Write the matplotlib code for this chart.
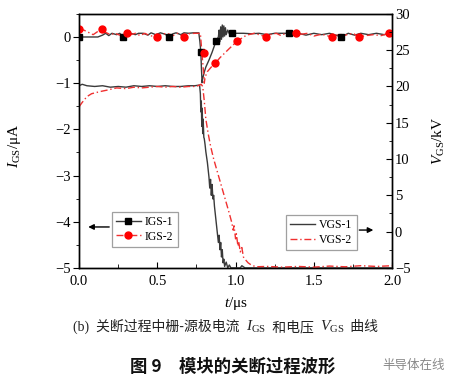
import matplotlib

matplotlib.use("Agg")
import matplotlib.pyplot as plt
from matplotlib.lines import Line2D
from matplotlib.patches import FancyArrowPatch
from matplotlib.ticker import MultipleLocator

plt.rcParams["font.family"] = ["Liberation Serif", "Noto Sans CJK SC"]
plt.rcParams["mathtext.fontset"] = "custom"
plt.rcParams["mathtext.rm"] = "Liberation Serif"
plt.rcParams["mathtext.it"] = "Liberation Serif:italic"
plt.rcParams["axes.linewidth"] = 1.0

# ---- data (t in us) ----
igs1_t = [0, 0.06, 0.12, 0.15, 0.17, 0.19, 0.21, 0.24, 0.26, 0.28, 0.30, 0.33, 0.36,
          0.38, 0.41, 0.44, 0.46, 0.49, 0.52, 0.55, 0.575, 0.60, 0.62, 0.65, 0.67,
          0.70, 0.73, 0.765, 0.772, 0.778, 0.782, 0.786, 0.79, 0.80, 0.81, 0.83,
          0.85, 0.875, 0.89, 0.895, 0.90, 0.905, 0.91, 0.915, 0.92, 0.925, 0.93,
          0.935, 0.94, 0.95, 0.96, 0.975, 1.05, 1.10, 1.15, 1.20, 1.25, 1.30, 1.34,
          1.40, 1.45, 1.50, 1.55, 1.60, 1.65, 1.675, 1.72, 1.76, 1.80, 1.85, 1.90,
          1.95, 1.98, 2.0]
igs1_i = [0, 0, 0, 0.04, 0.08, 0.03, 0.08, 0.05, 0.08, 0.0, 0.07, 0.08, 0.05,
          0.08, 0.08, 0.04, 0.09, 0.05, 0.09, 0.06, 0.0, 0.07, 0.09, 0.05, 0.09,
          0.08, 0.09, 0.09, -0.10, -0.33, -0.70, -0.99, -0.90, -0.76, -0.65, -0.50,
          -0.33, -0.09, 0.0, 0.15, -0.10, 0.22, -0.05, 0.26, 0.0, 0.24, 0.02,
          0.20, 0.05, 0.15, 0.07, 0.08, 0.08, 0.07, 0.08, 0.05, 0.08, 0.08, 0.08,
          0.08, 0.04, 0.08, 0.05, 0.08, 0.03, 0.0, 0.08, 0.04, 0.08, 0.05, 0.08,
          0.05, 0.08, 0.04]
igs1_mark_t = [0, 0.28, 0.575, 0.778, 0.875, 0.975, 1.34, 1.675]
igs1_mark_i = [0, 0, 0, -0.33, -0.09, 0.08, 0.08, 0.0]

igs2_t = [0, 0.03, 0.06, 0.09, 0.12, 0.145, 0.17, 0.20, 0.23, 0.26, 0.305, 0.33,
          0.36, 0.39, 0.42, 0.45, 0.50, 0.53, 0.56, 0.60, 0.63, 0.67, 0.70, 0.74,
          0.775, 0.785, 0.795, 0.80, 0.805, 0.82, 0.845, 0.87, 0.90, 0.93, 0.96,
          1.01, 1.07, 1.12, 1.16, 1.195, 1.23, 1.26, 1.29, 1.32, 1.36, 1.385, 1.42,
          1.46, 1.50, 1.55, 1.615, 1.66, 1.70, 1.75, 1.79, 1.83, 1.88, 1.93, 1.98,
          2.0]
igs2_i = [0.17, 0.15, 0.10, 0.05, 0.12, 0.17, 0.10, 0.05, 0.08, 0.04, 0.08, 0.05,
          0.08, 0.03, 0.08, 0.03, 0.0, 0.06, 0.08, 0.03, 0.08, 0.0, 0.07, 0.08,
          0.08, -0.35, -0.75, -1.0, -0.87, -0.75, -0.65, -0.57, -0.45, -0.35, -0.25,
          -0.09, 0.04, 0.08, 0.04, 0.0, 0.06, 0.08, 0.03, 0.08, 0.05, 0.08, 0.06,
          0.08, 0.02, 0.06, 0.0, 0.06, 0.04, 0.08, 0.0, 0.03, 0.05, 0.03, 0.08,
          0.08]
igs2_mark_t = [0, 0.145, 0.305, 0.50, 0.67, 0.80, 0.87, 1.01, 1.195, 1.385, 1.615,
               1.79, 1.98]
igs2_mark_i = [0.17, 0.17, 0.08, 0.0, 0.0, -0.35, -0.57, -0.09, 0.0, 0.08, 0.0,
               0.0, 0.08]

vgs1_t = [0, 0.02, 0.05, 0.10, 0.15, 0.20, 0.25, 0.30, 0.35, 0.40, 0.45, 0.50,
          0.55, 0.60, 0.65, 0.70, 0.74, 0.77, 0.775, 0.778, 0.781, 0.784, 0.787,
          0.79, 0.793, 0.797, 0.80, 0.805, 0.81, 0.82, 0.83, 0.835, 0.84, 0.845,
          0.85, 0.855, 0.86, 0.865, 0.87, 0.88, 0.89, 0.895, 0.90, 0.905, 0.91,
          0.915, 0.92, 0.925, 0.93, 0.94, 0.95, 0.96, 0.97, 1.03, 1.04, 1.06, 2.0]
vgs1_v = [20.1, 20.3, 20.1, 20.0, 20.1, 19.9, 20.0, 19.9, 20.1, 20.0, 20.1, 20.0,
          20.1, 20.0, 20.0, 20.1, 20.1, 20.2, 19.0, 16.5, 18.0, 14.5, 17.0,
          13.5, 15.5, 13.0, 12.8, 12.0, 11.0, 9.5, 7.5, 6.0, 7.2, 5.0,
          6.5, 4.5, 5.0, 3.5, 2.5, 0.5, -1.5, -0.5, -2.5, -1.5, -3.5,
          -2.5, -4.3, -3.8, -4.8, -4.2, -5.0, -4.6, -5.0, -5.0, -4.7, -5.0, -5.0]

vgs2_t = [0, 0.02, 0.05, 0.08, 0.135, 0.18, 0.24, 0.30, 0.35, 0.40, 0.45, 0.50,
          0.55, 0.60, 0.65, 0.70, 0.75, 0.78, 0.79, 0.80, 0.81, 0.825, 0.84, 0.86,
          0.88, 0.90, 0.92, 0.94, 0.96, 0.975, 0.985, 0.99, 1.0, 1.005, 1.015,
          1.02, 1.03, 1.04, 1.05, 1.06, 1.08, 1.10, 1.13, 1.20, 1.30, 1.40, 1.50,
          1.60, 1.70, 1.80, 1.90, 2.0]
vgs2_v = [17.2, 17.8, 18.6, 19.0, 19.3, 19.5, 19.8, 19.7, 19.9, 19.8, 19.9, 20.0,
          19.9, 20.0, 19.9, 20.0, 20.0, 20.3, 20.0, 18.0, 15.5, 13.5, 11.8, 10.0,
          8.5, 7.0, 5.5, 4.0, 2.5, 1.3, 0.2, 0.8, -1.0, -0.3, -2.0,
          -1.4, -2.8, -2.2, -3.5, -3.8, -4.3, -4.6, -4.85, -4.8, -4.9, -4.8, -4.9,
          -4.75, -4.85, -4.7, -4.8, -4.7]

BLACK = "#3a3a3a"
RED = "#f03030"
DASHDOT = (0, (5, 2, 1, 2))
TICK_FS = 10.5
SERIF = ["Liberation Serif", "Noto Sans CJK SC"]
CJK = ["Noto Sans CJK SC", "Liberation Serif"]

fig = plt.figure(figsize=(4.57, 3.86), dpi=100)
ax = fig.add_axes([0.173, 0.306, 0.685, 0.658])
ax2 = ax.twinx()

ax.plot(igs1_t, igs1_i, color=BLACK, lw=1.0, zorder=3)
ax.plot(igs1_mark_t, igs1_mark_i, ls="none", marker="s", ms=4.5, color="black", zorder=4)
ax.plot(igs2_t, igs2_i, color=RED, lw=1.0, ls=DASHDOT, zorder=3)
ax.plot(igs2_mark_t, igs2_mark_i, ls="none", marker="o", ms=5, color="red", zorder=4)

ax2.plot(vgs1_t, vgs1_v, color=BLACK, lw=1.0)
ax2.plot(vgs2_t, vgs2_v, color=RED, lw=1.0, ls=DASHDOT)

ax.set_xlim(0, 2.0)
ax.set_ylim(-5, 0.5)
ax2.set_ylim(-5, 30)

ax.xaxis.set_major_locator(MultipleLocator(0.5))
ax.xaxis.set_minor_locator(MultipleLocator(0.25))
ax.yaxis.set_major_locator(MultipleLocator(1))
ax.yaxis.set_minor_locator(MultipleLocator(0.5))
ax2.yaxis.set_major_locator(MultipleLocator(5))
ax2.yaxis.set_minor_locator(MultipleLocator(2.5))

ax.tick_params(axis="x", which="both", direction="in", top=False, labelsize=TICK_FS, pad=5)
ax.tick_params(axis="x", which="major", length=4)
ax.tick_params(axis="x", which="minor", length=3)
ax.tick_params(axis="y", which="both", direction="out", labelsize=TICK_FS, pad=2)
ax.tick_params(axis="y", which="major", length=4)
ax.tick_params(axis="y", which="minor", length=2.5)
ax2.tick_params(axis="y", which="both", direction="in", labelsize=TICK_FS, pad=2)
ax2.tick_params(axis="y", which="major", length=4)
ax2.tick_params(axis="y", which="minor", length=2.5)

ax.set_ylabel("$I_{\\rm GS}$/\u03bcA", fontsize=11)
ax.yaxis.set_label_coords(-0.18, 0.48)
ax2.set_ylabel("$V_{\\rm GS}$/kV", fontsize=11, rotation=90)
ax2.yaxis.set_label_coords(1.125, 0.5)
ax.set_xlabel("$t$/\u03bcs", fontsize=11)
ax.xaxis.set_label_coords(0.5, -0.105)

leg_kw = dict(frameon=True, fancybox=False, edgecolor="#888888", fontsize=8.5,
              handlelength=2.1, handletextpad=0.35, borderpad=0.35, labelspacing=0.25,
              borderaxespad=0, bbox_transform=fig.transFigure, loc="upper left")
h1 = [Line2D([], [], color=BLACK, lw=1.0, marker="s", ms=4.5, mfc="black", mec="black"),
      Line2D([], [], color=RED, lw=1.0, ls=DASHDOT, marker="o", ms=5, mfc="red", mec="red")]
leg1 = ax2.legend(h1, ["IGS-1", "IGS-2"], bbox_to_anchor=(0.245, 0.452), **leg_kw)
leg1.get_frame().set_linewidth(0.9)
ax2.add_artist(leg1)
h2 = [Line2D([], [], color=BLACK, lw=1.0),
      Line2D([], [], color=RED, lw=1.0, ls=DASHDOT)]
leg2 = ax2.legend(h2, ["VGS-1", "VGS-2"], bbox_to_anchor=(0.626, 0.444), **leg_kw)
leg2.get_frame().set_linewidth(0.9)

# legend arrows start at the legend frame edges
renderer = fig.canvas.get_renderer()
fw, fh = fig.bbox.width, fig.bbox.height
b1 = leg1.get_window_extent(renderer)
b2 = leg2.get_window_extent(renderer)
arrow = dict(arrowstyle="-|>", color="black", lw=1.0, mutation_scale=8)
fig.patches.append(FancyArrowPatch((b1.x0 / fw, 0.412), (0.187, 0.412),
                                   transform=fig.transFigure, **arrow))
fig.patches.append(FancyArrowPatch((b2.x1 / fw, 0.404), (0.823, 0.404),
                                   transform=fig.transFigure, **arrow))

# caption line: pieces laid out left to right (CJK text and math kept apart)
cap_y = 1 - 327 / 386
pieces = [("(b)  ", SERIF, 10), ("关断过程中栅-源极电流  ", CJK, 10),
          ("$I_{\\rm GS}$", SERIF, 11), ("  和电压  ", CJK, 10),
          ("$V_{\\rm GS}$", SERIF, 11), ("  曲线", CJK, 10)]
x = 73 / 457
for txt, fam, fs in pieces:
    t = fig.text(x, cap_y, txt, ha="left", va="center", fontsize=fs,
                 color="#222222", family=fam)
    bb = t.get_window_extent(renderer)
    x += bb.width / fw

fig.text(0.51, 1 - 367 / 386, "图 9　模块的关断过程波形", ha="center", va="center",
         fontsize=12.5, fontweight="bold", color="#111111", family=CJK)
fig.text(0.905, 1 - 365 / 386, "半导体在线", ha="center", va="center",
         fontsize=9, color="#888888", family=["Noto Sans CJK SC"])

fig.savefig("out.png", dpi=100)
